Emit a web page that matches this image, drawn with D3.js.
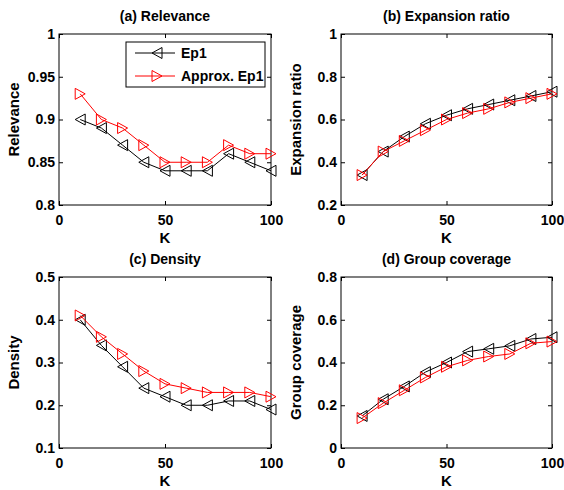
<!DOCTYPE html>
<html>
<head>
<meta charset="utf-8">
<script src="https://cdn.jsdelivr.net/npm/d3@7"></script>
<style>
  body { margin: 0; background: #fff; }
  svg text { font-family: "Liberation Sans", Arial, sans-serif; font-weight: bold; fill: #000; }
</style>
</head>
<body>
<svg id="js-svg" width="564" height="490"></svg>
<script>
// K values shared by every panel
const kValues = [10, 20, 30, 40, 50, 60, 70, 80, 90, 100];
const xTicks = [0, 50, 100];

// (a) Relevance
const relevanceEp1 = [0.90, 0.89, 0.87, 0.85, 0.84, 0.84, 0.84, 0.86, 0.85, 0.84];
const relevanceApprox = [0.93, 0.90, 0.89, 0.87, 0.85, 0.85, 0.85, 0.87, 0.86, 0.86];
const relevanceTicks = [0.8, 0.85, 0.9, 0.95, 1];

// (b) Expansion ratio
const expansionEp1 = [0.34, 0.45, 0.52, 0.58, 0.62, 0.65, 0.67, 0.69, 0.71, 0.73];
const expansionApprox = [0.34, 0.45, 0.50, 0.55, 0.60, 0.63, 0.65, 0.68, 0.70, 0.72];
const expansionTicks = [0.2, 0.4, 0.6, 0.8, 1];

// (c) Density
const densityEp1 = [0.40, 0.34, 0.29, 0.24, 0.22, 0.20, 0.20, 0.21, 0.21, 0.19];
const densityApprox = [0.41, 0.36, 0.32, 0.28, 0.25, 0.24, 0.23, 0.23, 0.23, 0.22];
const densityTicks = [0.1, 0.2, 0.3, 0.4, 0.5];

// (d) Group coverage
const coverageEp1 = [0.15, 0.228, 0.288, 0.355, 0.40, 0.451, 0.464, 0.478, 0.51, 0.518];
const coverageApprox = [0.14, 0.21, 0.27, 0.33, 0.38, 0.41, 0.428, 0.44, 0.49, 0.498];
const coverageTicks = [0, 0.2, 0.4, 0.6, 0.8];

const seriesNames = ["Ep1", "Approx. Ep1"];
const seriesColors = ["#000000", "#ff0000"];

const panels = [
  { title: "(a) Relevance", ylabel: "Relevance", ep1: relevanceEp1, approx: relevanceApprox, yTicks: relevanceTicks, x0: 59, x1: 271, y0: 34, y1: 205, legend: true },
  { title: "(b) Expansion ratio", ylabel: "Expansion ratio", ep1: expansionEp1, approx: expansionApprox, yTicks: expansionTicks, x0: 341, x1: 552, y0: 34, y1: 205 },
  { title: "(c) Density", ylabel: "Density", ep1: densityEp1, approx: densityApprox, yTicks: densityTicks, x0: 59, x1: 271, y0: 277, y1: 448 },
  { title: "(d) Group coverage", ylabel: "Group coverage", ep1: coverageEp1, approx: coverageApprox, yTicks: coverageTicks, x0: 341, x1: 552, y0: 277, y1: 448 },
];

const svg = d3.select("#js-svg");
const fmt = (d) => String(+d.toFixed(2));

// triangle pointing left (dir=-1) or right (dir=1), centred on 0,0
const triangle = (dir) => {
  const w = 5, h = 5.5;
  return `M${dir * w},0L${-dir * w},${-h}L${-dir * w},${h}Z`;
};

const drawSeries = (g, xs, ys, values, color, dir) => {
  const pts = kValues.map((k, i) => [xs(k), ys(values[i])]);
  g.append("path")
    .attr("d", d3.line()(pts))
    .attr("fill", "none")
    .attr("stroke", color)
    .attr("stroke-width", 1);
  g.selectAll(null)
    .data(pts)
    .join("path")
    .attr("transform", (d) => `translate(${d[0]},${d[1]})`)
    .attr("d", triangle(dir))
    .attr("fill", "none")
    .attr("stroke", color)
    .attr("stroke-width", 1);
};

panels.forEach((p) => {
  const xs = d3.scaleLinear().domain([0, 100]).range([p.x0, p.x1]);
  const ys = d3.scaleLinear().domain(d3.extent(p.yTicks)).range([p.y1, p.y0]);
  const g = svg.append("g");

  const styleAx = (sel) => {
    sel.select(".domain").remove();
    sel.selectAll(".tick line").attr("stroke", "#000");
    sel.selectAll(".tick text").style("font-size", "14px").attr("fill", "#000");
  };

  g.append("g")
    .attr("transform", `translate(0,${p.y1})`)
    .call(d3.axisBottom(xs).tickValues(xTicks).tickSizeInner(-4).tickSizeOuter(0).tickPadding(10))
    .call(styleAx);
  g.append("g")
    .attr("transform", `translate(0,${p.y0})`)
    .call(d3.axisTop(xs).tickValues(xTicks).tickSizeInner(-4).tickSizeOuter(0).tickFormat(""))
    .call(styleAx);
  g.append("g")
    .attr("transform", `translate(${p.x0},0)`)
    .call(d3.axisLeft(ys).tickValues(p.yTicks).tickFormat(fmt).tickSizeInner(-4).tickSizeOuter(0).tickPadding(4))
    .call(styleAx);
  g.append("g")
    .attr("transform", `translate(${p.x1},0)`)
    .call(d3.axisRight(ys).tickValues(p.yTicks).tickSizeInner(-4).tickSizeOuter(0).tickFormat(""))
    .call(styleAx);

  g.append("rect")
    .attr("x", p.x0).attr("y", p.y0)
    .attr("width", p.x1 - p.x0).attr("height", p.y1 - p.y0)
    .attr("fill", "none").attr("stroke", "#000").attr("stroke-width", 1);

  drawSeries(g, xs, ys, p.ep1, seriesColors[0], -1);
  drawSeries(g, xs, ys, p.approx, seriesColors[1], 1);

  const cx = (p.x0 + p.x1) / 2;
  g.append("text")
    .attr("x", cx).attr("y", p.y0 - 13)
    .attr("text-anchor", "middle")
    .style("font-size", "14px")
    .text(p.title);
  g.append("text")
    .attr("x", cx).attr("y", p.y1 + 38)
    .attr("text-anchor", "middle")
    .style("font-size", "15px")
    .text("K");
  g.append("text")
    .attr("transform", `translate(${p.x0 - 40},${(p.y0 + p.y1) / 2}) rotate(-90)`)
    .attr("text-anchor", "middle")
    .style("font-size", "15px")
    .text(p.ylabel);

  if (p.legend) {
    const lg = g.append("g").attr("transform", "translate(126,42)");
    lg.append("rect")
      .attr("width", 139).attr("height", 45)
      .attr("fill", "#fff").attr("stroke", "#000").attr("stroke-width", 1);
    seriesNames.forEach((name, i) => {
      const y = 11 + i * 23;
      lg.append("line")
        .attr("x1", 9).attr("x2", 49).attr("y1", y).attr("y2", y)
        .attr("stroke", seriesColors[i]).attr("stroke-width", 1);
      lg.append("path")
        .attr("transform", `translate(31,${y})`)
        .attr("d", triangle(i === 0 ? -1 : 1))
        .attr("fill", "none").attr("stroke", seriesColors[i]);
      lg.append("text")
        .attr("x", 55).attr("y", y + 5)
        .style("font-size", "14px")
        .text(name);
    });
  }
});
</script>
</body>
</html>
